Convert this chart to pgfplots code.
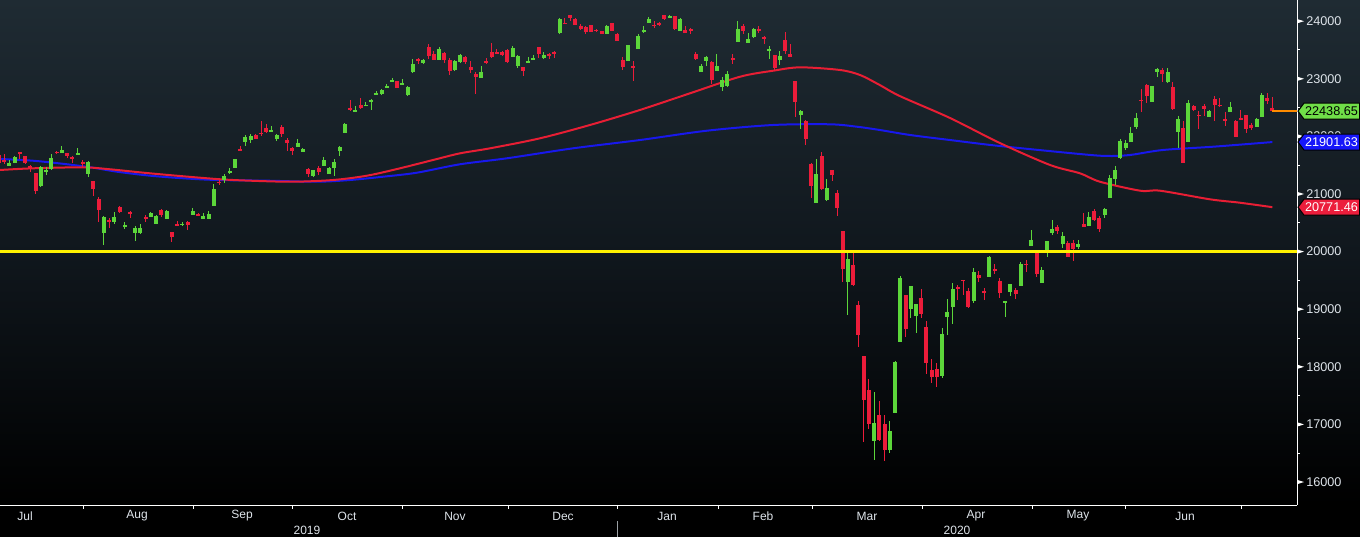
\documentclass[border=0pt]{standalone}
\usepackage{pgfplots}
\pgfplotsset{compat=1.18}
\usepackage{pgfplotstable}
\usepackage{fontspec}
\setmainfont{Liberation Sans}

\definecolor{cup}{RGB}{92,214,58}
\definecolor{cdown}{RGB}{236,28,58}
\definecolor{mared}{RGB}{232,30,52}
\definecolor{mablue}{RGB}{24,24,236}
\definecolor{bgtop}{RGB}{31,43,51}
\definecolor{bgmid}{RGB}{16,23,29}
\definecolor{labc}{RGB}{222,228,234}
\definecolor{taggreen}{RGB}{112,222,72}
\definecolor{tagblue}{RGB}{22,22,250}
\definecolor{tagred}{RGB}{236,30,60}
\definecolor{lastline}{RGB}{255,140,0}

% trading day index k (0 = 1 Aug 2019), open high low close
\pgfplotstableread{
k o h l c
-15 21492 21590 21490 21533
-14 21544 21660 21540 21650
-9 21139 21480 21122 21466
-8 21382 21463 21335 21416
-7 21428 21694 21416 21620
-5 21717 21839 21710 21764
-2 21683 21804 21680 21717
0 21353 21570 21301 21555
3 20328 20616 20114 20606
5 20514 20687 20485 20600
7 20440 20508 20386 20455
9 20328 20444 20190 20405
10 20322 20479 20305 20418
12 20606 20690 20595 20677
13 20485 20630 20480 20618
15 20571 20722 20560 20710
18 20470 20514 20444 20479
20 20635 20757 20630 20704
22 20560 20675 20560 20625
23 20571 20705 20565 20649
24 20791 21173 20785 21087
26 21243 21347 21196 21318
27 21359 21445 21340 21392
28 21457 21610 21450 21602
30 21908 22024 21833 21995
31 21937 22036 21891 22001
35 22090 22175 22080 22098
36 21955 22041 21926 22020
40 21822 21955 21810 21891
41 21735 21793 21729 21781
43 21318 21420 21289 21410
45 21492 21648 21480 21590
46 21353 21469 21340 21456
47 21457 21602 21318 21555
48 21746 21839 21665 21810
49 22065 22225 22060 22215
51 22440 22528 22430 22451
53 22528 22597 22528 22548
54 22610 22643 22458 22625
55 22724 22794 22715 22750
56 22736 22823 22718 22799
57 22840 22910 22835 22867
58 22944 23014 22938 22974
60 22905 22996 22898 22927
61 22718 22870 22710 22857
62 23112 23344 23100 23251
64 23270 23344 23260 23330
67 23326 23550 23320 23520
70 23153 23320 23130 23303
71 23286 23430 23280 23416
75 23019 23222 23010 23112
81 23384 23569 23380 23540
82 23222 23413 23193 23396
84 23290 23378 23280 23300
85 23340 23413 23340 23354
87 23355 23459 23338 23413
90 23801 24061 23780 24030
99 23778 23940 23772 23924
103 23315 23590 23310 23580
105 23517 23778 23510 23743
106 23818 23916 23790 23850
107 23974 24073 23963 24030
111 24075 24115 24070 24083
113 23835 24055 23830 24031
117 23124 23257 23115 23215
118 23315 23396 23222 23385
120 23141 23424 23130 23215
121 22863 23037 22788 22975
122 22881 23135 22863 23084
124 23645 24003 23640 23873
126 23627 23789 23620 23691
127 23720 23876 23714 23864
130 23482 23569 23344 23523
132 23326 23482 23239 23400
136 22371 22458 22128 22441
139 20849 21607 20849 21344
141 20895 21260 20876 21110
145 19478 20000 18900 19867
150 16718 17563 16382 17025
153 16556 17059 16498 16887
154 17204 18101 17200 18092
155 18437 19577 18430 19546
157 19004 19410 18853 19403
158 18888 19091 18593 19084
163 17846 18680 17812 18576
164 18870 19177 18552 18951
165 19044 19455 18743 19353
169 19142 19715 19108 19646
172 19559 19923 19559 19900
175 19120 19140 18865 19137
176 19299 19440 19229 19437
178 19403 19819 19403 19785
180 20097 20375 20090 20193
182 19455 19727 19450 19681
183 19970 20190 19912 20184
184 20317 20549 20290 20390
186 20132 20340 20062 20267
189 20086 20201 20045 20133
191 20450 20688 20440 20595
194 20635 20757 20590 20741
195 20924 21329 20924 21271
196 21254 21485 21155 21419
197 21618 21948 21600 21916
198 21792 21936 21763 21877
199 21907 22156 21896 22062
200 22156 22400 22133 22325
203 22602 22880 22595 22870
204 23123 23185 23036 23178
206 22938 23181 22920 23124
208 22081 22354 21803 22305
210 21907 22631 21907 22582
214 22342 22458 22330 22437
218 22428 22596 22420 22512
223 22168 22320 22160 22306
224 22342 22747 22330 22714
}\upcandles

\pgfplotstableread{
k o h l c
-17 21680 21700 21520 21534
-16 21590 21690 21520 21565
-13 21729 21735 21607 21686
-12 21659 21665 21520 21530
-11 21480 21503 21387 21469
-10 21358 21365 21005 21046
-6 21735 21752 21700 21709
-4 21712 21715 21620 21658
-3 21648 21665 21532 21616
-1 21550 21590 21474 21521
1 21225 21230 20965 21087
2 20913 20940 20514 20720
4 20548 20577 20415 20516
6 20768 20785 20676 20684
8 20690 20705 20583 20655
11 20606 20635 20519 20563
14 20722 20745 20606 20628
16 20340 20345 20173 20261
17 20480 20530 20450 20456
19 20514 20530 20375 20460
21 20650 20665 20610 20620
25 21214 21254 21156 21199
29 21770 21833 21750 21759
32 22024 22036 21960 21960
33 22065 22267 22007 22044
34 22140 22215 22065 22079
37 22157 22192 21995 22048
38 21937 21966 21752 21878
39 21804 21821 21677 21755
42 21434 21451 21289 21341
44 21457 21486 21335 21375
50 22493 22632 22447 22472
52 22545 22667 22470 22492
59 22962 22970 22840 22843
63 23349 23367 23263 23303
65 23558 23604 23338 23391
66 23430 23482 23320 23331
68 23453 23470 23280 23319
69 23326 23367 23066 23141
72 23372 23401 23257 23292
73 23199 23309 23106 23148
74 23083 23124 22736 23038
76 23300 23355 23257 23292
77 23465 23627 23360 23373
78 23465 23517 23430 23437
79 23471 23480 23390 23409
80 23500 23510 23280 23293
83 23199 23211 23054 23135
86 23546 23550 23367 23430
88 23430 23453 23343 23391
89 23471 23488 23355 23424
91 23970 24050 23950 23952
92 24107 24110 24009 24060
93 24038 24061 23930 23934
94 23922 23951 23847 23864
95 23905 23922 23772 23816
96 23934 23940 23815 23821
97 23850 23870 23818 23835
98 23830 23835 23775 23782
100 23968 23975 23830 23837
101 23778 23790 23650 23656
102 23326 23372 23153 23204
104 23210 23309 22962 23204
108 23935 24003 23888 23916
109 23974 23980 23915 23933
110 24107 24115 24026 24041
112 24090 24095 23855 23864
114 23847 23916 23790 23795
115 23864 23876 23772 23827
116 23430 23471 23320 23343
119 23286 23315 22910 22977
123 23367 23424 23257 23319
125 23916 23951 23772 23827
128 23864 23916 23789 23827
129 23731 23740 23604 23687
131 23413 23420 23141 23193
133 23673 23806 23430 23479
134 23430 23604 23380 23386
135 22962 22965 22342 22605
137 22267 22284 21850 21948
138 21520 21532 20936 21142
140 21659 21735 21069 21082
142 21416 21420 21225 21329
143 21023 21069 20618 20749
144 20358 20360 19478 19698
146 19768 19990 19400 19416
147 19073 19143 18350 18559
148 18188 18190 16701 17431
149 17598 17789 16921 17002
151 17164 17407 16710 16726
152 17007 17164 16358 16552
156 19247 19250 18524 18664
159 19195 19351 18853 18917
160 18691 18796 17875 18065
161 17945 18136 17725 17819
162 17962 18067 17656 17820
166 19385 19420 19165 19345
167 19507 19510 19252 19495
168 19316 19368 19020 19043
170 19594 19663 19472 19550
171 19310 19368 19160 19290
173 19698 19785 19611 19669
174 19490 19542 19194 19280
177 19333 19368 19177 19262
179 19785 19854 19646 19771
181 19993 20000 19559 19619
185 20427 20462 20306 20366
187 20144 20184 19905 19914
188 20144 20201 19837 20037
190 20479 20676 20420 20433
192 20705 20740 20531 20552
193 20583 20618 20340 20388
201 22640 22816 22423 22613
202 22891 22909 22585 22695
205 23152 23181 22949 23091
207 22862 22943 22457 22472
209 22139 22266 21531 21531
211 22527 22544 22440 22455
212 22380 22446 22127 22355
213 22527 22562 22359 22478
215 22648 22700 22272 22549
216 22545 22660 22504 22534
217 22301 22428 22180 22259
219 22266 22284 21983 21995
220 22319 22457 22280 22288
221 22365 22370 22052 22121
222 22197 22226 22110 22145
225 22672 22758 22556 22614
226 22490 22689 22420 22438.65
}\downcandles

% moving averages
\pgfplotstableread{
k v
-16.81 21417
-10.52 21446
-0.97 21463
4.18 21429
11.81 21359
21.35 21283
27.65 21243
38.53 21213
46.74 21243
53.23 21318
59.52 21446
65.82 21590
70.97 21706
76.70 21793
86.24 21967
95.78 22198
105.32 22459
114.86 22748
124.41 23036
130.71 23140
135.86 23199
143.49 23153
147.31 23066
151.1 22891
154.9 22701
164.5 22319
174.0 21885
183.6 21503
189.3 21359
193.1 21213
200.8 21057
204.6 21057
214.1 20908
219.8 20849
226 20771.46
}\mared

\pgfplotstableread{
k v
-16.81 21608
-10.52 21578
-3.99 21516
0.95 21457
5.52 21387
11.81 21318
18.11 21273
24.6 21243
34.14 21231
43.68 21213
49.98 21243
56.28 21300
62.77 21370
70.97 21516
79.94 21620
92.54 21793
105.32 21937
118.11 22099
130.71 22198
141.6 22210
146.74 22168
151.1 22111
156.9 22024
164.5 21937
174.0 21833
189.3 21694
194.4 21660
198.8 21677
205.1 21764
214.7 21821
226 21901.63
}\mablue

% value tag at the right edge; #1 = value in thousands
\newcommand\valtag[4]{%
  \pgfmathsetmacro\ty{32+(#1-15.60098)*57.6037}
  \filldraw[fill=#2, draw=black, line width=0.75pt]
    (1298,\ty) -- (1304,\ty+8) -- (1359.5,\ty+8) -- (1359.5,\ty-8) -- (1304,\ty-8) -- cycle;
  \node[text=#3, font=\fontsize{9.5}{11}\selectfont, inner sep=0pt] at (1331.5,\ty) {#4};
}

\begin{document}
\begin{tikzpicture}[x=0.75pt,y=0.75pt]
\useasboundingbox (0,0) rectangle (1360,537);
\fill[black] (0,0) rectangle (1360,537);
\shade[top color=bgtop, bottom color=black, middle color=bgmid] (0,32) rectangle (1360,537);

\begin{axis}[
  at={(0pt,24pt)}, anchor=south west, scale only axis,
  width=972.75pt, height=378.75pt,
  xmin=-16.81, xmax=230.71, ymin=15600.98, ymax=24367.78,
  axis x line*=bottom, axis y line*=right,
  axis line style={white, line width=0.75pt},
  xtick=\empty,
  ytick={16000,17000,...,24000},
  minor ytick={16500,17500,...,23500},
  scaled y ticks=false,
  major tick length=0pt, minor tick length=2.25pt,
  tick align=outside,
  minor tick style={white, line width=0.75pt},
  yticklabel pos=right,
  yticklabel style={anchor=west, inner sep=0pt, xshift=6.75pt, text=labc,
    font=\fontsize{9.5}{11}\selectfont},
  /pgf/number format/1000 sep={},
  /pgf/number format/assume math mode=true,
]
\addplot[mablue, line width=1.5pt, smooth] table[x=k, y=v] {\mablue};
\addplot[mared, line width=1.5pt, smooth] table[x=k, y=v] {\mared};

% wicks
\addplot[draw=none, mark=none, error bars/.cd, y dir=both, y explicit, error mark=none,
  error bar style={draw=cup, line width=0.75pt}]
  table[x=k, y expr={(\thisrow{h}+\thisrow{l})/2}, y error expr={(\thisrow{h}-\thisrow{l})/2}] {\upcandles};
\addplot[draw=none, mark=none, error bars/.cd, y dir=both, y explicit, error mark=none,
  error bar style={draw=cdown, line width=0.75pt}]
  table[x=k, y expr={(\thisrow{h}+\thisrow{l})/2}, y error expr={(\thisrow{h}-\thisrow{l})/2}] {\downcandles};
% bodies
\addplot[draw=none, mark=none, error bars/.cd, y dir=both, y explicit, error mark=none,
  error bar style={draw=cup, line width=3pt}]
  table[x=k, y expr={(\thisrow{o}+\thisrow{c})/2}, y error expr={max(abs(\thisrow{c}-\thisrow{o})/2,9)}] {\upcandles};
\addplot[draw=none, mark=none, error bars/.cd, y dir=both, y explicit, error mark=none,
  error bar style={draw=cdown, line width=3pt}]
  table[x=k, y expr={(\thisrow{o}+\thisrow{c})/2}, y error expr={max(abs(\thisrow{c}-\thisrow{o})/2,9)}] {\downcandles};

\addplot[yellow, line width=2.25pt] coordinates {(-16.81,20000) (230.71,20000)};
\addplot[lastline, line width=1pt] coordinates {(226,22438.65) (230.71,22438.65)};
\end{axis}

% major tick pointers on the value axis
\foreach \v in {16,...,24}{
  \pgfmathsetmacro\ty{32+(\v-15.60098)*57.6037}
  \fill[white] (1297,\ty+2.2) -- (1304,\ty) -- (1297,\ty-2.2) -- cycle;
}

\valtag{22.43865}{taggreen}{black}{22438.65}
\valtag{21.90163}{tagblue}{white}{21901.63}
\valtag{20.77146}{tagred}{white}{20771.46}

% month ticks and labels
\foreach \px in {83,193,292,402,508,617,718,812,922,1032,1125.5,1241.5}
  \draw[white, line width=0.75pt] (\px,32) -- (\px,28);
\draw[labc!70!black, line width=0.75pt] (617,16) -- (617,0);
\foreach \px/\m in {25/Jul,137/Aug,242/Sep,347/Oct,455/Nov,563/Dec,667/Jan,763/Feb,867/Mar,976/Apr,1078/May,1185/Jun}
  \node[text=labc, font=\fontsize{9}{10}\selectfont] at (\px,21) {\m};
\node[text=labc, font=\fontsize{9}{10}\selectfont] at (307,6.5) {2019};
\node[text=labc, font=\fontsize{9}{10}\selectfont] at (957,6.5) {2020};
\end{tikzpicture}
\end{document}
